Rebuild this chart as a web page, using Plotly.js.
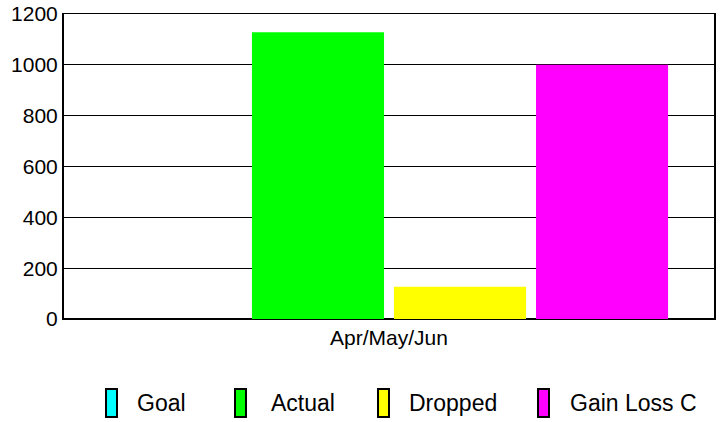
<!DOCTYPE html>
<html>
<head>
<meta charset="utf-8">
<script src="https://cdn.plot.ly/plotly-3.0.1.min.js"></script>
<style>html,body{margin:0;padding:0;background:#fff;}#chart{width:722px;height:422px;}</style>
</head>
<body>
<div id="chart"></div>
<script>
// ---- data ----
const categories = ['Apr/May/Jun'];
const seriesNames = ['Goal', 'Actual', 'Dropped', 'Gain Loss C'];
const goalValues = [0];
const actualValues = [1128];
const droppedValues = [127];
const gainLossValues = [1000];
const yTickValues = [0, 200, 400, 600, 800, 1000, 1200];

// ---- styles ----
const seriesColors = ['#00FFFF', '#00FF00', '#FFFF00', '#FF00FF'];
const seriesValues = [goalValues, actualValues, droppedValues, gainLossValues];
const FONT = 'Arial, "Liberation Sans", sans-serif';

const W = 722, H = 422;
const M = {l: 64, r: 8, t: 14, b: 103};
const plotW = W - M.l - M.r, plotH = H - M.t - M.b;
const px2x = px => (px - M.l) / plotW;
const px2y = py => (H - M.b - py) / plotH;

const traces = seriesNames.map((name, i) => ({
  type: 'bar',
  name: name,
  x: categories,
  y: seriesValues[i],
  marker: {color: seriesColors[i], line: {width: 0}},
  hoverinfo: 'none'
}));

// custom legend (tall narrow swatches)
const legendBoxLeft = [106, 235, 378, 538];
const legendTextLeft = [135, 269, 407, 568];
const shapes = [], annotations = [];
seriesNames.forEach((name, i) => {
  shapes.push({
    type: 'rect', xref: 'paper', yref: 'paper',
    x0: px2x(legendBoxLeft[i]), x1: px2x(legendBoxLeft[i] + 11),
    y0: px2y(389), y1: px2y(417),
    fillcolor: seriesColors[i], line: {color: '#000', width: 2}
  });
  annotations.push({
    xref: 'paper', yref: 'paper', x: px2x(legendTextLeft[i]), y: px2y(403),
    xanchor: 'left', yanchor: 'middle', showarrow: false,
    text: name, font: {family: FONT, size: 23, color: '#000'}
  });
});

const layout = {
  width: W, height: H,
  margin: M,
  paper_bgcolor: '#fff', plot_bgcolor: '#fff',
  showlegend: false,
  barmode: 'group',
  bargap: 0.126,
  bargroupgap: 0.07,
  font: {family: FONT, size: 21, color: '#000'},
  xaxis: {
    showgrid: false, showline: true, linecolor: '#000', linewidth: 1, mirror: true,
    ticks: '', tickfont: {family: FONT, size: 21, color: '#000'}, fixedrange: true
  },
  yaxis: {
    range: [0, 1200], tickvals: yTickValues, ticktext: yTickValues.map(String),
    showgrid: true, gridcolor: '#000', gridwidth: 1,
    zeroline: true, zerolinecolor: '#000', zerolinewidth: 2,
    showline: true, linecolor: '#000', linewidth: 2, mirror: true,
    ticks: '', tickfont: {family: FONT, size: 21, color: '#000'}, fixedrange: true
  },
  shapes: shapes,
  annotations: annotations
};

Plotly.newPlot('chart', traces, layout, {staticPlot: true, displayModeBar: false});
</script>
</body>
</html>
